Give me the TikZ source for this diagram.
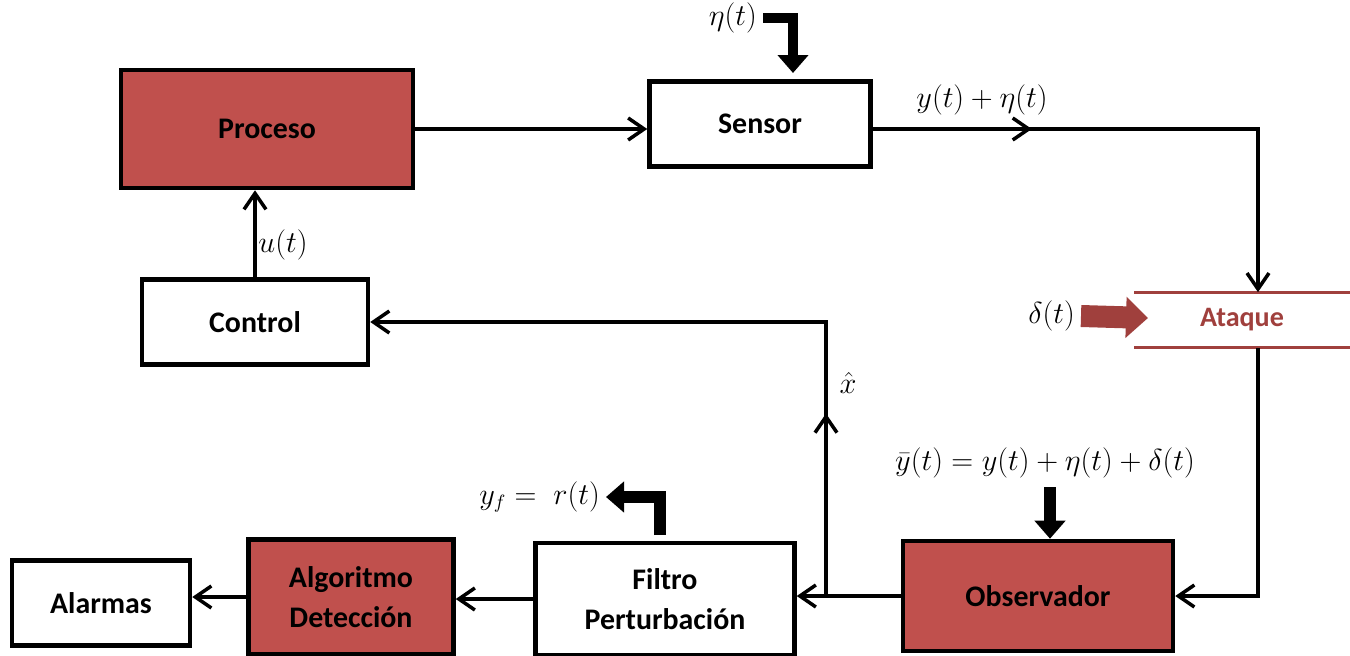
\documentclass[tikz,border=0pt]{standalone}
\usepackage[no-math]{fontspec}
\setmainfont{Carlito}
\usetikzlibrary{arrows.meta, positioning, calc, decorations.markings}
\definecolor{procred}{HTML}{C0504D}
\definecolor{atkred}{HTML}{A0403D}

\begin{document}
\begin{tikzpicture}[
    x=0.02cm, y=-0.02cm,
    box/.style={rectangle, draw, line width=2.6pt, fill=white, align=center, font=\fontsize{17}{23}\selectfont\bfseries},
    redbox/.style={box, fill=procred},
    conn/.style={-{Straight Barb[length=3.2mm, width=4.4mm]}, line width=2pt},
    midarrow/.style={postaction={decorate}, decoration={markings, mark=at position #1 with {\arrow{Straight Barb[length=3.2mm, width=4.4mm]}}}},
    fatarrow/.style={-{Triangle[length=3.6mm, width=6mm]}, line width=2mm},
    lbl/.style={font=\fontsize{16}{19}\selectfont}
]
\useasboundingbox (0,0) rectangle (1350,656);

% Blocks
\node[redbox, minimum width=5.84cm, minimum height=2.36cm] (proceso) at (267,129) {Proceso};
\node[box, minimum width=4.42cm, minimum height=1.7cm] (sensor) at (760,124) {Sensor};
\node[box, minimum width=4.52cm, minimum height=1.7cm] (control) at (255,322) {Control};
\node[redbox, minimum width=5.4cm, minimum height=2.2cm] (observador) at (1038,596) {Observador};
\node[box, minimum width=5.18cm, minimum height=2.24cm] (filtro) at (665,599) {Filtro\\Perturbación};
\node[redbox, minimum width=4.1cm, minimum height=2.3cm] (algoritmo) at (351,597) {Algoritmo\\Detección};
\node[box, minimum width=3.56cm, minimum height=1.7cm] (alarmas) at (101,603) {Alarmas};

% Attack channel
\node[font=\fontsize{16}{19}\selectfont\bfseries, text=atkred, minimum width=4.3cm, minimum height=1.1cm] (ataque) at (1242,320) {Ataque};
\draw[atkred, line width=1.8pt] (ataque.north west) -- (ataque.north east);
\draw[atkred, line width=1.8pt] (ataque.south west) -- (ataque.south east);
\coordinate (rgt) at (1258,0);

% Signals
\node[lbl, anchor=east] (eta) at (763,18) {$\eta(t)$};
\node[lbl] (yeta) at (982,100) {$y(t)+\eta(t)$};
\node[lbl] (ulbl) at (283,245) {$u(t)$};
\node[lbl, anchor=east] (delta) at (1081,316) {$\delta(t)$};
\node[lbl] (xhat) at (848,383) {$\hat{x}$};
\node[lbl] (ybar) at (1045,463) {$\bar{y}(t)=y(t)+\eta(t)+\delta(t)$};
\node[lbl, anchor=east] (yf) at (606,497) {$y_f =\; r(t)$};
\coordinate (etatip) at (793,73);
\coordinate (deltatip) at (1148,318);
\coordinate (ybarstart) at (1050,487);
\coordinate (yfstart) at (660,535);
\coordinate (branch) at (826,596);

% Connections
\draw[conn] (proceso.east) -- (sensor.west |- proceso.east);
\draw[conn, midarrow=0.29] (sensor.east |- proceso.east) -| (ataque.north -| rgt);
\draw[conn] (ataque.south -| rgt) |- (observador.east);
\draw[conn] (observador.west) -- (filtro.east |- observador.west);
\draw[conn, midarrow=0.25] (branch) |- (control.east);
\draw[conn] (filtro.west) -- (algoritmo.east |- filtro.west);
\draw[conn] (algoritmo.west) -- (alarmas.east |- algoritmo.west);
\draw[conn] (control.north) -- (proceso.south -| control.north);

% Disturbance inputs
\draw[fatarrow] (eta.east) -| (etatip);
\draw[fatarrow, atkred, line width=4.4mm, -{Triangle[length=4.4mm, width=8mm]}] (delta.east) -- (deltatip);
\draw[fatarrow, line width=2.4mm] (ybarstart) -- (ybarstart |- observador.north);
\draw[fatarrow, line width=2.4mm] (yfstart) |- (yf.east);

\end{tikzpicture}
\end{document}
